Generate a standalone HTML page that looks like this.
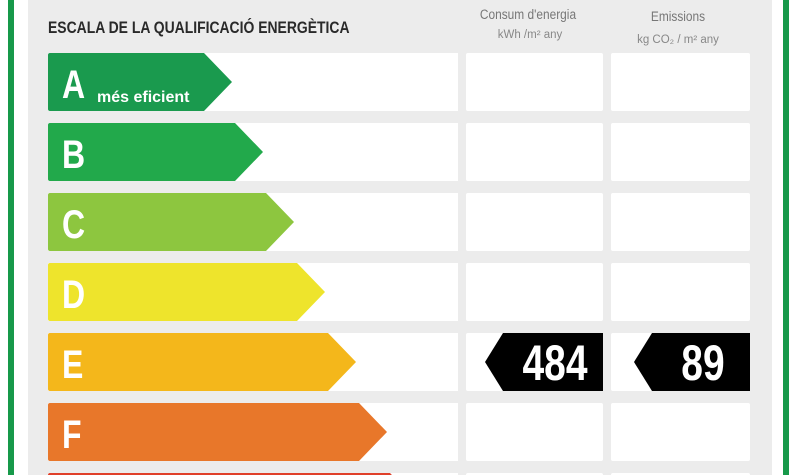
<!DOCTYPE html>
<html><head><meta charset="utf-8"><style>
html,body{margin:0;padding:0;width:800px;height:475px;overflow:hidden;background:#fff;font-family:"Liberation Sans",sans-serif}
svg{display:block}
</style></head><body>
<svg id="chart" width="800" height="475" xmlns="http://www.w3.org/2000/svg">
<rect x="8" y="0" width="6" height="475" fill="#17994a"/>
<rect x="783" y="0" width="6" height="475" fill="#17994a"/>
<rect x="28" y="-20" width="744" height="520" rx="14" fill="#ececec"/>
<text x="48" y="33" font-size="17" font-weight="bold" fill="#2a2a2a" transform="translate(48 0) scale(0.82 1) translate(-48 0)">ESCALA DE LA QUALIFICACIÓ ENERGÈTICA</text>
<text x="528" y="19" font-size="14" fill="#777" text-anchor="middle" transform="translate(528 0) scale(0.85 1) translate(-528 0)">Consum d'energia</text>
<text x="530" y="38" font-size="11.5" fill="#888" text-anchor="middle">kWh /m² any</text>
<text x="678" y="21" font-size="14" fill="#777" text-anchor="middle" transform="translate(678 0) scale(0.85 1) translate(-678 0)">Emissions</text>
<text x="678" y="43" font-size="11.5" fill="#888" text-anchor="middle">kg CO₂ / m² any</text>
<g id="rows"></g>
</svg>
<script>
const categories = ["A","B","C","D","E","F","G"];
const colors = ["#1a9a4e","#22a94b","#8dc63f","#eee42c","#f4b71b","#e8772a","#e0402a"];
const energyValues = [null,null,null,null,484,null,null];
const emissionValues = [null,null,null,null,89,null,null];
const NS="http://www.w3.org/2000/svg";
const g=document.getElementById('rows');
function y(i){return 53+i*70;}
function tipX(i){return 232+i*31;}
function mk(t,a){const e=document.createElementNS(NS,t);for(const k in a)e.setAttribute(k,a[k]);g.appendChild(e);return e;}
categories.forEach((c,i)=>{
  const top=y(i),h=58,tx=tipX(i);
  let e=mk('rect',{x:48,y:top,width:410,height:h,fill:'#fff'});
  
  
  e=mk('rect',{x:466,y:top,width:137,height:h,fill:'#fff',rx:2});
  
  
  e=mk('rect',{x:611,y:top,width:139,height:h,fill:'#fff',rx:2});
  
  
  e=mk('path',{d:`M50 ${top}H${tx-28}L${tx} ${top+h/2}L${tx-28} ${top+h}H50Q48 ${top+h} 48 ${top+h-2}V${top+2}Q48 ${top} 50 ${top}Z`,fill:colors[i]});
  
  
  e=mk('text',{x:62,y:top+45,'font-size':40,'font-weight':'bold',fill:'#fff',transform:`translate(62 0) scale(0.8 1) translate(-62 0)`});
  e.textContent=c;
  
  
  if(i===0){
    e=mk('text',{x:97,y:top+49,'font-size':16,'font-weight':'bold',fill:'#fff'});
    e.textContent='més eficient';
    
    
  }
  [[energyValues,485,603,'energy'],[emissionValues,634,750,'emission']].forEach(([arr,x0,x1,nm])=>{
    if(arr[i]==null)return;
    let b=mk('path',{d:`M${x0+18} ${top}H${x1}V${top+h}H${x0+18}L${x0} ${top+h/2}Z`,fill:'#000'});
    
    
    const cx=(x0+18+x1)/2+2;
    let t=mk('text',{x:cx,y:top+47,'font-size':50,'font-weight':'bold',fill:'#fff','text-anchor':'middle',transform:`translate(${cx} 0) scale(0.78 1) translate(${-cx} 0)`});
    t.textContent=arr[i];
    
    
  });
});
</script>
</body></html>
